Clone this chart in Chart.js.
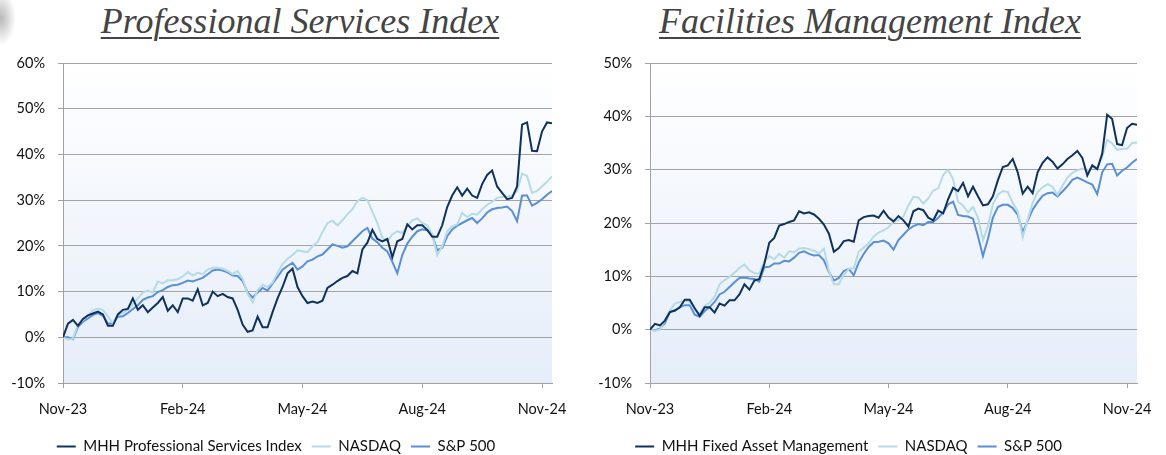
<!DOCTYPE html>
<html>
<head>
<meta charset="utf-8">
<script src="https://cdn.jsdelivr.net/npm/chart.js@4.4.1/dist/chart.umd.min.js"></script>
<style>
  body { margin: 0; width: 1166px; height: 455px; overflow: hidden; background: #fff; position: relative; }
  .title { position: absolute; top: 3px; transform: translateX(-50%); white-space: nowrap;
           font: italic 36px "Liberation Serif", serif; line-height: 36px; color: #444;
           text-decoration: underline; text-decoration-thickness: 1.5px; text-underline-offset: 4px; }
  .corner { position: absolute; left: -14px; top: -10px; width: 30px; height: 56px; border-radius: 50%;
            background: radial-gradient(ellipse at center, rgba(0,0,0,0.28), rgba(0,0,0,0) 70%); }
  canvas { position: absolute; top: 0; }
</style>
</head>
<body>
<div class="corner"></div>
<div class="title" style="left:300px">Professional Services Index</div>
<div class="title" style="left:870px">Facilities Management Index</div>
<canvas id="psChart" width="580" height="470" style="left:0"></canvas>
<canvas id="fmChart" width="606" height="470" style="left:560px"></canvas>
<script>
// x axis in months since Nov-23, one point every 1/8 month
const monthTicks = [0, 3, 6, 9, 12];
const monthLabels = ['Nov-23', 'Feb-24', 'May-24', 'Aug-24', 'Nov-24'];
const pointStep = 0.125;
const xMax = 12.25;

// Professional Services chart (% change)
const psIndex = [
  0, 3, 3.8, 2.5, 4, 4.8, 5.2, 5.6, 5, 2.5,
  2.5, 5, 6, 6.2, 8.5, 6, 7, 5.5, 6.5, 7.5,
  8.8, 5.8, 7, 5.5, 8.5, 8.5, 8, 10.5, 7, 7.5,
  10, 9, 9.5, 8.8, 8.5, 6, 2.8, 1.2, 1.5, 4.5,
  2.2, 2.2, 5.5, 8.5, 11, 14, 15, 11, 9, 7.5,
  7.8, 7.5, 8, 10.8, 11.5, 12.3, 13, 13.4, 14.5, 14,
  19.2, 20.7, 23.5, 21.5, 21, 21.5, 17.5, 21, 21.5, 24.7,
  23.6, 24.5, 24.5, 23.5, 22, 22, 24.5, 28.5, 31, 32.8,
  31, 32.5, 31, 30.5, 33.5, 35.5, 36.5, 33, 31.6, 30.2,
  30.5, 33, 46.5, 47, 40.8, 40.7, 45, 47, 46.8
];
const psNasdaq = [
  0, -0.5, -0.3, 2.8, 3.7, 4.8, 5.9, 6.3, 6, 4.6,
  3, 5, 5.3, 6, 7.3, 8.5, 9.8, 10.2, 9.8, 12.2,
  11.8, 12.5, 12.5, 12.7, 13.3, 14.3, 13.5, 14.1, 13.8, 14.8,
  15.2, 15.2, 15, 14.5, 13.8, 14.5, 12.8, 9.5, 7.6, 10.3,
  11.5, 11, 12, 14.2, 16, 17.2, 18, 19, 18.8, 18.6,
  19.9, 20.8, 23, 25, 25.5, 24.5, 25.6, 26.9, 28, 29.8,
  30.5, 30, 27.5, 25, 21.8, 21, 22.5, 23.2, 22.8, 24.3,
  25.6, 26, 25, 24.5, 22.5, 18, 19.9, 23.2, 24.3, 24.7,
  27.2, 26.3, 27, 26.8, 28, 29, 29.6, 30.5, 30.7, 30.8,
  31, 32, 35.8, 35.3, 31.6, 32, 33, 34, 35.2
];
const psSp500 = [
  0, 0, -0.4, 2.3, 3.4, 4.1, 4.9, 5.3, 4.7, 3,
  3, 4.5, 4.6, 5.3, 6.2, 7, 8.2, 8.7, 9, 9.9,
  10.3, 11, 11.4, 11.5, 11.9, 12.4, 12.2, 12.6, 13, 13.8,
  14.6, 14.8, 14.6, 14.2, 13.5, 13.4, 12.3, 9.8, 8.7, 9.8,
  10.8, 10.2, 11.8, 13.2, 14.8, 15.6, 16.3, 14.8, 15.5, 16.6,
  17, 17.7, 18.1, 19.2, 20.3, 20, 19.6, 19.9, 21, 22.1,
  23.2, 23.9, 21.6, 20.8, 19.6, 18.8, 16.5, 14, 18, 20.5,
  22, 23.2, 23.6, 23.4, 22.4, 19, 19.6, 22.1, 23.6, 24.4,
  25, 25.6, 26.1, 25, 26, 27.3, 28, 28.3, 28.4, 28.6,
  27.6, 25.4, 31, 31, 28.8, 29.4, 30.2, 31.2, 32
];

// Facilities Management chart (% change)
const fmIndex = [
  0, 1.1, 0.8, 1.7, 3.3, 3.6, 4.2, 5.6, 5.6, 4,
  2.6, 4.2, 4.2, 3.2, 4.9, 4.5, 5.5, 5.5, 6.6, 8.5,
  7.5, 9.2, 9.5, 12.3, 16.3, 17.2, 19.5, 19.8, 20.2, 20.5,
  22.2, 21.8, 22, 21.6, 20.8, 19.7, 18, 14.6, 15.3, 16.6,
  16.8, 16.5, 20.5, 21.1, 21.3, 21.4, 21, 22.3, 21, 20.3,
  21.3, 20.5, 19.3, 22.2, 22.7, 22.4, 21, 20.5, 22.3, 21.8,
  24.5, 26.6, 26, 27.5, 25, 26.8, 25, 23.3, 23.5, 25,
  28, 30.5, 30.8, 32, 29.5, 25.5, 26.8, 25.6, 29.5, 31.3,
  32.3, 31.5, 30.2, 31, 32, 32.7, 33.5, 32.2, 28.9, 30.8,
  30.1, 33, 40.3, 39.5, 34.8, 34.6, 37.8, 38.6, 38.4
];
const fmNasdaq = [
  0, -0.2, 0, 1.7, 3.6, 4.9, 5.2, 5.5, 5.2, 3.7,
  3, 4.5, 5, 6.2, 8.5, 9.3, 9.9, 10.7, 11.6, 12.2,
  11.1, 10.6, 10.5, 12.8, 13.8, 13.2, 14.2, 13.5, 14.7, 14.5,
  15.2, 15.3, 15.1, 14.8, 14.3, 15.2, 11, 8.5, 8.5, 10.3,
  11.4, 11.5, 14.6, 15.4, 16.2, 17.5, 18.2, 18.6, 19.2, 20.2,
  20.6, 21.2, 23.3, 24.9, 24.8, 23.6, 24.6, 26.1, 26.5, 29,
  30, 28.2, 24, 23.3, 22, 23, 21, 16.8, 19.4, 23.5,
  25.3, 26, 25.8, 23.8, 22.2, 17.3, 20.6, 23.8, 25.8, 26.7,
  27.3, 26.8, 25.3, 27, 28.5, 29.4, 29.9, 30.2, 29.8, 30.5,
  30.2, 32.5, 35.6, 34.9, 33.7, 33.9, 33.9, 35, 35.1
];
const fmSp500 = [
  0, -0.1, 0.2, 1.2, 3.3, 3.6, 4.2, 4.6, 4.6, 2.8,
  2.4, 3.5, 4.2, 5.2, 6.6, 7.1, 8, 8.9, 9.7, 9.8,
  9.6, 9.5, 9, 11.7, 11.8, 12.4, 12.4, 12.9, 12.8, 13.5,
  14.4, 14.7, 14.2, 13.9, 14, 13, 10.8, 9.2, 9.7, 11,
  11.4, 10.2, 12.6, 14.2, 15.5, 16.4, 16.5, 16.7, 16.2, 15,
  16.8, 17.8, 18.8, 19.4, 19.8, 19.6, 20.2, 20.2, 21, 22,
  23.5, 24, 21.5, 21.3, 21.2, 20.8, 17.5, 13.8, 17, 21,
  23, 23.4, 23.4, 22.8, 21.5, 18.3, 20.4, 22.5, 23.9, 25.1,
  25.6, 25.7, 25, 25.9, 26.9, 28.1, 28.5, 28.1, 27.6, 27.2,
  25.4, 29.5, 31, 31.1, 28.9, 29.8, 30.4, 31.3, 32
];

const darkBlue = '#0f325c';
const lightBlue = '#b5dbe6';
const midBlue = '#5a8fd6';
const gridGrey = '#a3a3a3';
const axisFont = { family: 'Lato', size: 14.5 };
const legendFont = { family: 'Lato', size: 15 };

function toPoints(values) {
  return values.map((v, i) => ({ x: i * pointStep, y: v }));
}

// light gradient behind the plot area
const plotFill = {
  id: 'plotFill',
  beforeDraw(chart) {
    const { ctx, chartArea: a } = chart;
    const g = ctx.createLinearGradient(0, a.top, 0, a.bottom);
    g.addColorStop(0, '#ffffff');
    g.addColorStop(1, '#e5edf9');
    ctx.save();
    ctx.fillStyle = g;
    ctx.fillRect(a.left, a.top, a.width, a.height);
    ctx.restore();
  }
};

function makeChart(id, names, series, yMax, axisWidth, padRight) {
  const colors = [darkBlue, lightBlue, midBlue];
  const datasets = series.map((s, k) => ({
    label: names[k],
    data: toPoints(s),
    borderColor: colors[k],
    backgroundColor: colors[k],
    borderWidth: 2,
    pointRadius: 0,
    tension: 0,
    order: k
  }));

  return new Chart(document.getElementById(id), {
    type: 'line',
    data: { datasets },
    plugins: [plotFill],
    options: {
      responsive: false,
      animation: false,
      layout: { padding: { top: 63, right: padRight, left: 0, bottom: 6 } },
      plugins: {
        tooltip: { enabled: false },
        legend: {
          position: 'bottom',
          labels: {
            usePointStyle: true,
            pointStyle: 'line',
            pointStyleWidth: 19,
            padding: 10,
            color: '#111',
            font: legendFont
          }
        }
      },
      scales: {
        x: {
          type: 'linear',
          min: 0,
          max: xMax,
          afterBuildTicks: s => { s.ticks = monthTicks.map(v => ({ value: v })); },
          afterFit: s => { s.height = 46; },
          ticks: {
            callback: (v, i) => monthLabels[i],
            color: '#111',
            font: axisFont,
            padding: 13,
            maxRotation: 0,
            autoSkip: false
          },
          grid: { drawOnChartArea: false, drawTicks: true, tickLength: 5, color: gridGrey },
          border: { color: gridGrey }
        },
        y: {
          min: -10,
          max: yMax,
          afterFit: s => { s.width = axisWidth; },
          ticks: {
            stepSize: 10,
            callback: v => v + '%',
            color: '#111',
            font: axisFont,
            padding: 13
          },
          grid: { color: gridGrey, tickLength: 5 },
          border: { color: gridGrey }
        }
      }
    }
  });
}

makeChart('psChart', ['MHH Professional Services Index', 'NASDAQ', 'S&P 500'],
  [psIndex, psNasdaq, psSp500], 60, 63, 28);
makeChart('fmChart', ['MHH Fixed Asset Management', 'NASDAQ', 'S&P 500'],
  [fmIndex, fmNasdaq, fmSp500], 50, 90, 29);
</script>
</body>
</html>
